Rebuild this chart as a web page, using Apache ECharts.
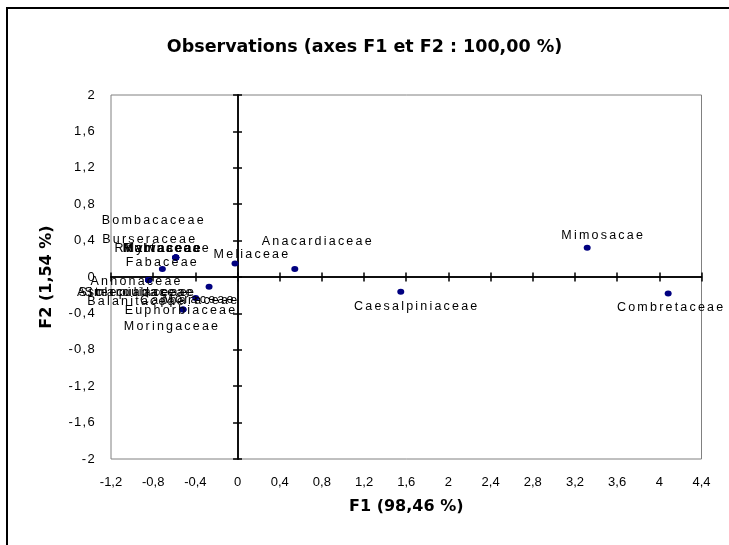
<!DOCTYPE html>
<html>
<head>
<meta charset="utf-8">
<script src="https://cdn.jsdelivr.net/npm/echarts@6/dist/echarts.min.js"></script>
<style>
html,body{margin:0;padding:0;background:#fff;}
#chart{width:729px;height:545px;}
</style>
</head>
<body>
<div id="chart"></div>
<script>
// ---- data ----
const names = ["Mimosacae","Combretaceae","Caesalpiniaceae","Anacardiaceae","Meliaceae",
  "Bombacaceae","Burseraceae","Rubiaceae","Myrtaceae","Malvaceae","Rhamnaceae",
  "Fabaceae","Annonaceae","Asclepiadaceae","Sterculiaceae","Simaroubaceae","Balanitaceae",
  "Moraceae","Capparaceae","Euphorbiaceae","Moringaceae"];
const f1 = [3.316, 4.084, 1.548, 0.543, -0.024,
  -0.586, -0.586, -0.586, -0.586, -0.586, -0.586,
  -0.713, -0.843, -0.843, -0.843, -0.843, -0.843,
  -0.270, -0.397, -0.517, -0.517];
const f2 = [0.321, -0.180, -0.163, 0.087, 0.149,
  0.215, 0.215, 0.215, 0.215, 0.215, 0.215,
  0.087, -0.034, -0.034, -0.034, -0.034, -0.034,
  -0.108, -0.232, -0.356, -0.356];
const xTicks = {min: -1.2, max: 4.4, step: 0.4};
const yTicks = {min: -2, max: 2, step: 0.4};

// ---- layout: label offsets (px) relative to each point ----
const labelOffsets = [[16,-12],[3,14],[16,14.5],[23,-28],[17,-9],
  [-22,-37],[-26,-18],[-13,-9],[-13,-9],[-13,-9],[-13,-9],
  [0,-7],[-12,1],[-12,12.7],[-12,12.7],[-12,12.7],[-12,21],
  [-10,13],[-6,2],[-2,1.5],[-11,17]];

// letter spacing (reference text is horizontally spread)
(function(){
  const proto = CanvasRenderingContext2D.prototype;
  const desc = Object.getOwnPropertyDescriptor(proto, 'font');
  if (!desc || !('letterSpacing' in proto)) return;
  Object.defineProperty(proto, 'font', {
    configurable: true,
    get(){ return desc.get.call(this); },
    set(v){
      desc.set.call(this, v);
      try {
        this.letterSpacing = /lblsp/.test(v) ? '2.2px' : (/tksp/.test(v) ? '1.3px' : '0px');
      } catch(e){}
    }
  });
})();

const fmt = v => String(+v.toFixed(2)).replace('.', ',');

const chart = echarts.init(document.getElementById('chart'), null, {renderer: 'canvas'});

const data = names.map((n, i) => ({value: [f1[i], f2[i]], name: n}));

function zeroAxis(dim, inside) {
  const t = dim === 'x' ? xTicks : yTicks;
  return {
    type: 'value', gridIndex: 0,
    min: t.min, max: t.max, interval: t.step,
    position: dim === 'x' ? 'bottom' : 'left',
    axisLine: {show: true, onZero: true, onZeroAxisIndex: 0, lineStyle: {color: '#000', width: 1.5}},
    axisTick: {show: true, inside: inside, length: 4.5, lineStyle: {color: '#000', width: 1.5}},
    axisLabel: {show: false},
    splitLine: {show: false}
  };
}

const option = {
  backgroundColor: '#fff',
  animation: false,
  graphic: [{
    type: 'rect', silent: true, z: -10,
    shape: {x: 7, y: 8, width: 900, height: 700},
    style: {fill: 'none', stroke: '#000', lineWidth: 2}
  }],
  title: {
    text: 'Observations (axes F1 et F2 : 100,00 %)',
    left: 'center', top: 33,
    textStyle: {fontFamily: 'DejaVu Sans', fontWeight: 'bold', fontSize: 17.5, color: '#000'}
  },
  grid: {left: 111, right: 27.5, top: 95, bottom: 86, show: true, borderColor: '#808080', borderWidth: 1,
         backgroundColor: '#fff', containLabel: false, outerBoundsMode: 'none'},
  xAxis: [
    {
      type: 'value', min: xTicks.min, max: xTicks.max, interval: xTicks.step, position: 'bottom',
      axisLine: {show: false, onZero: false}, axisTick: {show: false}, splitLine: {show: false},
      axisLabel: {formatter: fmt, margin: 17, fontFamily: 'Liberation Sans', fontSize: 13, color: '#000'},
      name: 'F1 (98,46 %)', nameLocation: 'middle', nameGap: 40,
      nameTextStyle: {fontFamily: 'DejaVu Sans', fontWeight: 'bold', fontSize: 16, color: '#000'}
    },
    zeroAxis('x', false),
    zeroAxis('x', true)
  ],
  yAxis: [
    {
      type: 'value', min: yTicks.min, max: yTicks.max, interval: yTicks.step, position: 'left',
      axisLine: {show: false, onZero: false}, axisTick: {show: false}, splitLine: {show: false},
      axisLabel: {formatter: fmt, margin: 15, fontFamily: "'Liberation Sans', tksp", fontSize: 13, color: '#000'},
      name: 'F2 (1,54 %)', nameLocation: 'middle', nameGap: 56, nameRotate: 90,
      nameTextStyle: {fontFamily: 'DejaVu Sans', fontWeight: 'bold', fontSize: 16, color: '#000'}
    },
    zeroAxis('y', false),
    zeroAxis('y', true)
  ],
  series: [{
    type: 'scatter', xAxisIndex: 0, yAxisIndex: 0,
    symbol: 'circle', symbolSize: [7, 6],
    itemStyle: {color: '#000080', opacity: 1},
    z: 5,
    label: {
      show: true, position: 'inside', formatter: p => p.name,
      align: 'center', verticalAlign: 'middle',
      fontFamily: "'Liberation Sans', lblsp", fontSize: 12.5, color: '#000'
    },
    labelLayout: function (p) {
      const o = labelOffsets[p.dataIndex];
      return {dx: o[0], dy: o[1], hideOverlap: false};
    },
    emphasis: {disabled: true},
    data: data
  }]
};
chart.setOption(option);
</script>
</body>
</html>
